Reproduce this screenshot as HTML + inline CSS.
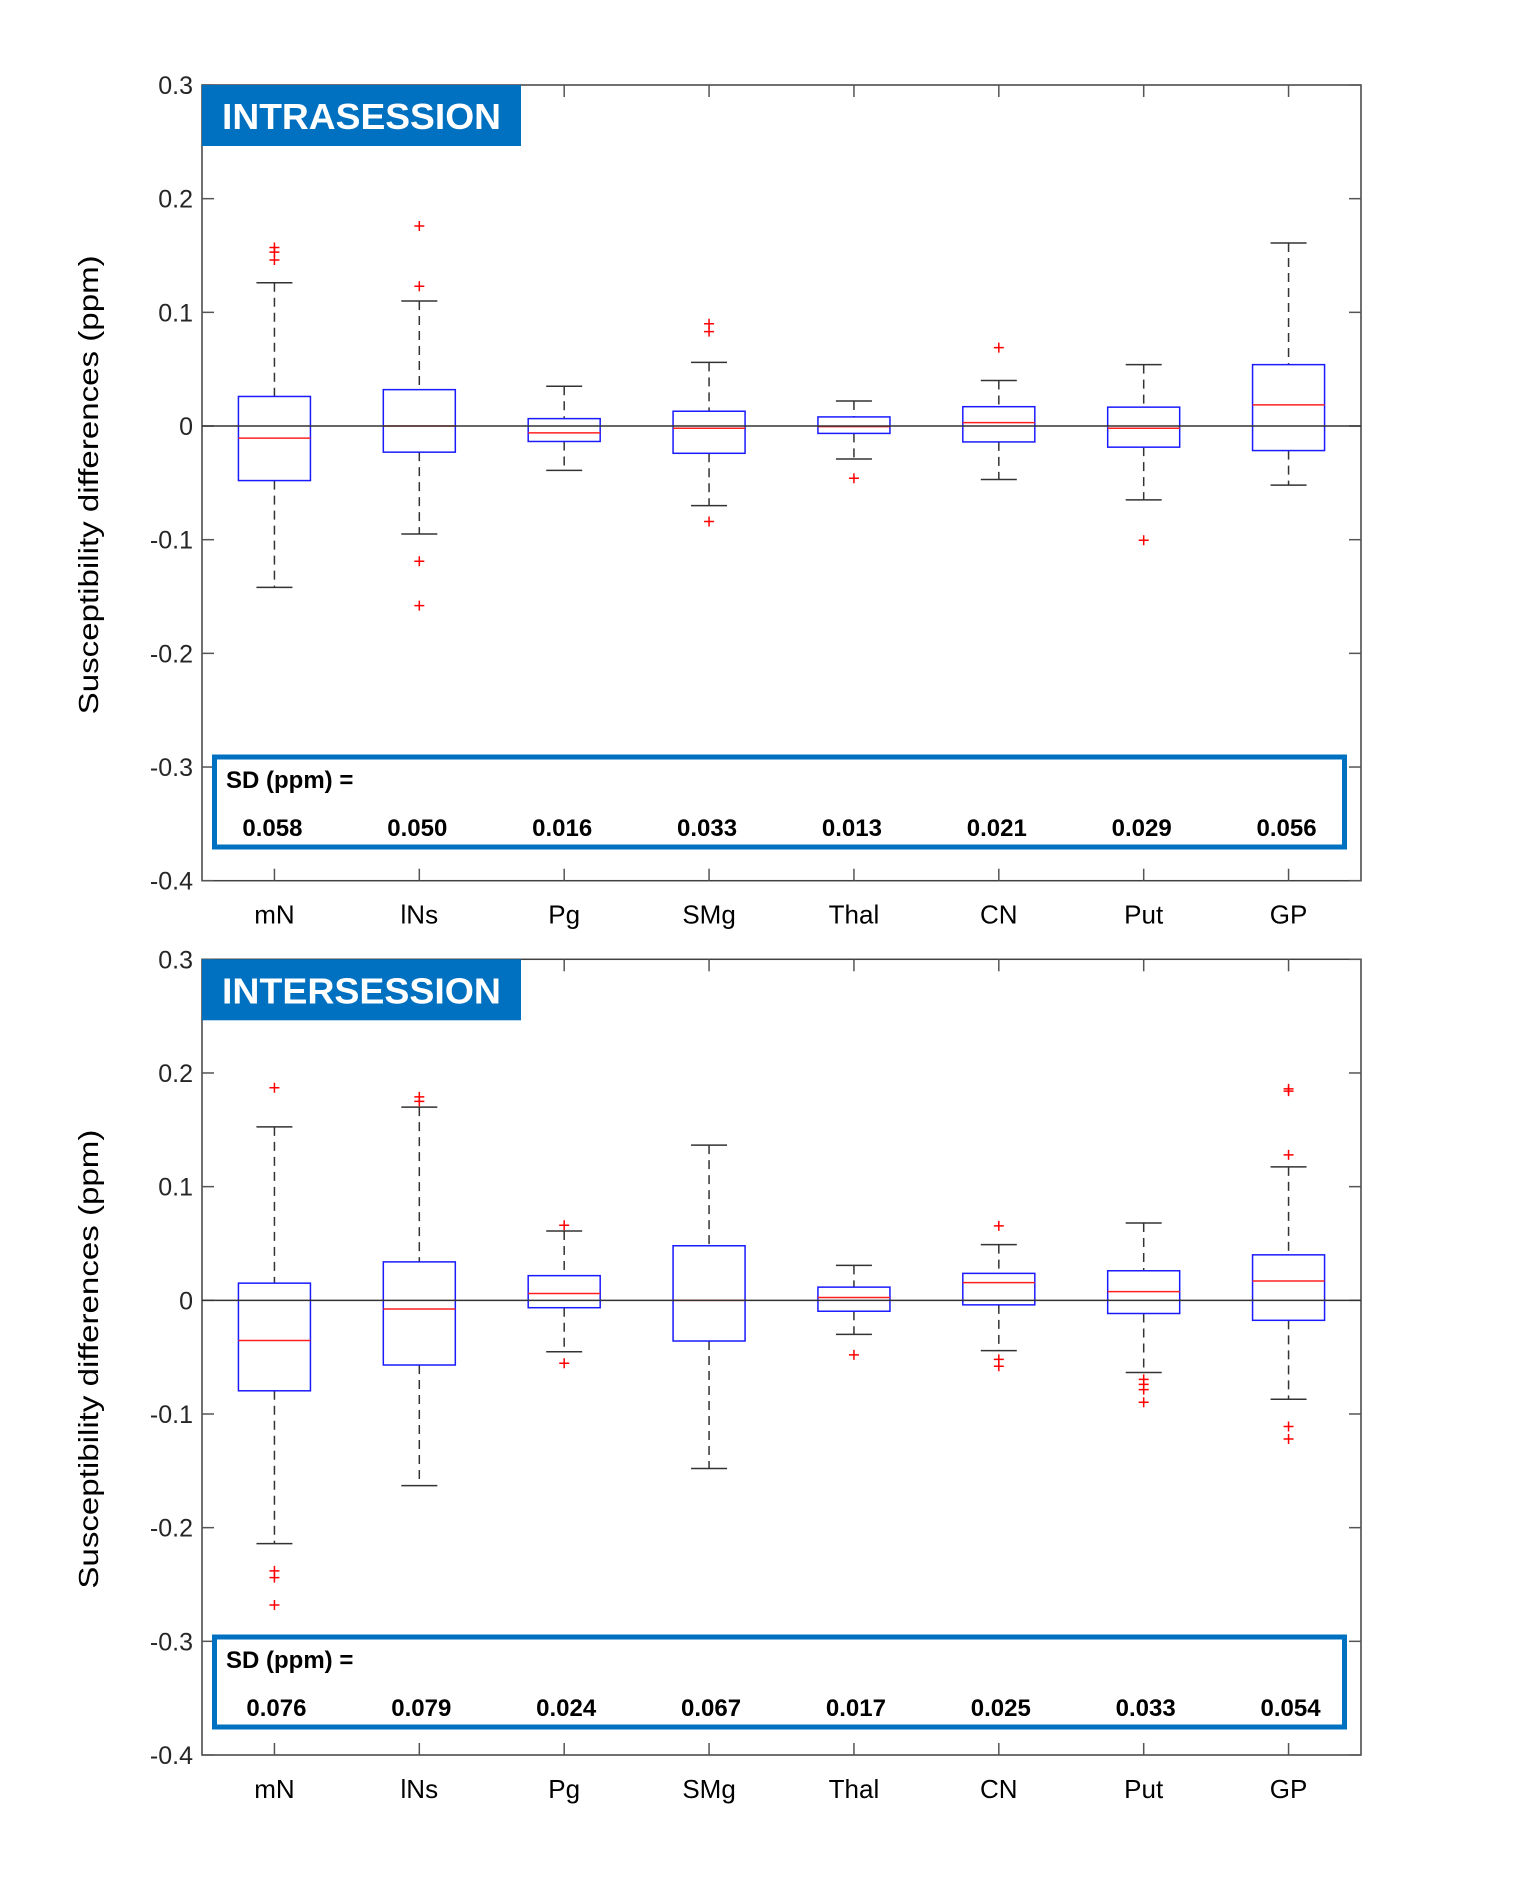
<!DOCTYPE html>
<html><head><meta charset="utf-8"><title>Susceptibility differences</title>
<style>html,body{margin:0;padding:0;background:#fff}svg{display:block}</style>
</head><body>
<svg id="chart" xmlns="http://www.w3.org/2000/svg" width="1526" height="1880" viewBox="0 0 1526 1880" font-family="Liberation Sans, Arial, sans-serif"></svg>
<script>
const categories = ["mN","lNs","Pg","SMg","Thal","CN","Put","GP"];
const yTicks = [0.3,0.2,0.1,0,-0.1,-0.2,-0.3,-0.4];
const yTickLabels = ["0.3","0.2","0.1","0","-0.1","-0.2","-0.3","-0.4"];
// INTRASESSION
const intraWhiskerHi = [0.126,0.110,0.035,0.056,0.022,0.040,0.054,0.161];
const intraQ3 = [0.026,0.032,0.0065,0.013,0.008,0.017,0.0166,0.054];
const intraMedian = [-0.0106,0,-0.006,-0.002,-0.0005,0.003,-0.002,0.0186];
const intraQ1 = [-0.048,-0.023,-0.0136,-0.024,-0.0065,-0.014,-0.0186,-0.0216];
const intraWhiskerLo = [-0.142,-0.095,-0.039,-0.070,-0.029,-0.047,-0.065,-0.052];
const intraOutliers = [[0.157,0.153,0.146],[0.176,0.123,-0.119,-0.158],[],[0.090,0.083,-0.084],[-0.046],[0.069],[-0.1005],[]];
const intraSD = ["0.058","0.050","0.016","0.033","0.013","0.021","0.029","0.056"];
// INTERSESSION
const interWhiskerHi = [0.1526,0.170,0.061,0.1365,0.0307,0.049,0.068,0.1174];
const interQ3 = [0.0151,0.0338,0.0217,0.048,0.0116,0.0237,0.026,0.040];
const interMedian = [-0.0353,-0.0076,0.006,0,0.0025,0.0156,0.0076,0.017];
const interQ1 = [-0.0796,-0.0569,-0.0065,-0.0358,-0.0096,-0.004,-0.0116,-0.0176];
const interWhiskerLo = [-0.214,-0.163,-0.0453,-0.148,-0.030,-0.0443,-0.0635,-0.087];
const interOutliers = [[0.187,-0.238,-0.244,-0.268],[0.179,0.175],[0.066,-0.0554],[],[-0.048],[0.0655,-0.052,-0.058],[-0.0695,-0.074,-0.0786,-0.0897],[0.186,0.184,0.128,-0.111,-0.122]];
const interSD = ["0.076","0.079","0.024","0.067","0.017","0.025","0.033","0.054"];

const NS = "http://www.w3.org/2000/svg";
const svg = document.getElementById("chart");
function mk(tag, attrs, parent){
  const e = document.createElementNS(NS, tag);
  for (const k in attrs) e.setAttribute(k, attrs[k]);
  (parent||svg).appendChild(e);
  return e;
}

function panel(cfg){
  const L=202, R=1361, T=cfg.top, B=cfg.bottom;
  const g = mk("g", {});
  
  
  const yScale = v => T + (0.3 - v) / 0.7 * (B - T);
  const xScale = i => L + (i + 0.5) / categories.length * (R - L);

  const frame = mk("rect", {x:L, y:T, width:R-L, height:B-T, fill:"none", stroke:"#404040", "stroke-width":1.5}, g);
  
  

  yTicks.forEach((v, i) => {
    const y = yScale(v);
    mk("line", {x1:L, x2:L+12, y1:y, y2:y, stroke:"#555", "stroke-width":1.5}, g);
    mk("line", {x1:R-12, x2:R, y1:y, y2:y, stroke:"#555", "stroke-width":1.5}, g);
    const t = mk("text", {x:193, y:y+9, "text-anchor":"end", "font-size":25, fill:"#262626"}, g);
    t.textContent = yTickLabels[i];
    
    
  });

  categories.forEach((c, i) => {
    const x = xScale(i);
    mk("line", {x1:x, x2:x, y1:T, y2:T+12, stroke:"#555", "stroke-width":1.5}, g);
    mk("line", {x1:x, x2:x, y1:B-12, y2:B, stroke:"#555", "stroke-width":1.5}, g);
    const t = mk("text", {x:x, y:B+43, "text-anchor":"middle", "font-size":26, fill:"#000"}, g);
    t.textContent = c;
    
    
  });

  categories.forEach((c, i) => {
    const x = xScale(i);
    const bg = mk("g", {}, g);
    
    
    const yHi=yScale(cfg.hi[i]), yQ3=yScale(cfg.q3[i]), yMed=yScale(cfg.med[i]), yQ1=yScale(cfg.q1[i]), yLo=yScale(cfg.lo[i]);
    mk("line", {x1:x,x2:x,y1:yHi,y2:yQ3,stroke:"#333","stroke-width":1.5,"stroke-dasharray":"9,6"}, bg);
    mk("line", {x1:x,x2:x,y1:yQ1,y2:yLo,stroke:"#333","stroke-width":1.5,"stroke-dasharray":"9,6"}, bg);
    mk("line", {x1:x-18,x2:x+18,y1:yHi,y2:yHi,stroke:"#333","stroke-width":1.5}, bg);
    mk("line", {x1:x-18,x2:x+18,y1:yLo,y2:yLo,stroke:"#333","stroke-width":1.5}, bg);
    mk("rect", {x:x-36,y:yQ3,width:72,height:yQ1-yQ3,fill:"none",stroke:"#1a1aff","stroke-width":1.5}, bg);
    mk("line", {x1:x-36,x2:x+36,y1:yMed,y2:yMed,stroke:"#ff2020","stroke-width":1.5}, bg);
    cfg.out[i].forEach(v => {
      const y = yScale(v);
      const o = mk("path", {d:`M${x-5},${y}H${x+5}M${x},${y-5}V${y+5}`, stroke:"#ff0000","stroke-width":1.5,fill:"none"}, bg);
      
      
    });
  });

  const z = mk("line", {x1:L, x2:R, y1:yScale(0), y2:yScale(0), stroke:"#333", "stroke-width":1.5}, g);
  
  

  const tb = mk("rect", {x:L, y:T, width:319, height:61, fill:"#0070c0"}, g);
  
  
  const tt = mk("text", {x:222, y:T+44, "font-size":36, "font-weight":"bold", fill:"#fff", textLength:279, lengthAdjust:"spacingAndGlyphs"}, g);
  tt.textContent = cfg.title;
  
  

  const sb = mk("rect", {x:214.5, y:cfg.sdTop, width:1130, height:90, fill:"#fff", stroke:"#0070c0","stroke-width":5}, g);
  
  
  const sl = mk("text", {x:226, y:cfg.sdTop+31, "font-size":24, "font-weight":"bold", fill:"#000"}, g);
  sl.textContent = "SD (ppm) =";
  
  
  cfg.sd.forEach((s, i) => {
    const t = mk("text", {x:xScale(i)+cfg.sdOff, y:cfg.sdTop+79, "text-anchor":"middle", "font-size":24, "font-weight":"bold", fill:"#000"}, g);
    t.textContent = s;
    
    
  });

  const cy = (T + B) / 2 + 2;
  const yt = mk("text", {x:0, y:0, transform:`translate(98,${cy}) rotate(-90)`, "text-anchor":"middle", "font-size":28, fill:"#000", textLength:459, lengthAdjust:"spacingAndGlyphs"}, g);
  yt.textContent = "Susceptibility differences (ppm)";
  
  
}

panel({name:"intrasession-panel", title:"INTRASESSION", top:85, bottom:880.7, sdTop:757,
  hi:intraWhiskerHi, q3:intraQ3, med:intraMedian, q1:intraQ1, lo:intraWhiskerLo, out:intraOutliers, sd:intraSD, sdOff:-2});
panel({name:"intersession-panel", title:"INTERSESSION", top:959.3, bottom:1755, sdTop:1637,
  hi:interWhiskerHi, q3:interQ3, med:interMedian, q1:interQ1, lo:interWhiskerLo, out:interOutliers, sd:interSD, sdOff:2});
</script>
</body></html>
